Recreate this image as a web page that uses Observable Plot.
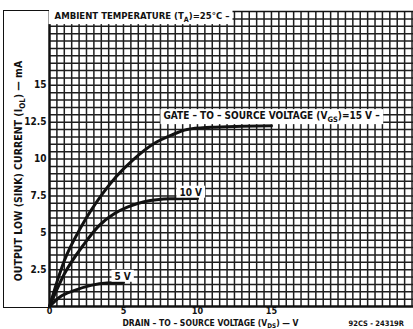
<!DOCTYPE html>
<html><head><meta charset="utf-8">
<script src="https://cdn.jsdelivr.net/npm/d3@7"></script>
<script src="https://cdn.jsdelivr.net/npm/@observablehq/plot@0.6"></script>
<style>
html,body{margin:0;padding:0;background:#fff;overflow:hidden;}
#wrap{position:relative;width:413px;height:329px;overflow:hidden;}
#wrap svg{position:absolute;left:0;top:0;}
#box{position:absolute;left:3px;top:10px;width:45px;height:296px;border:1.5px solid #111;border-right:none;pointer-events:none;}
</style></head><body><div id="wrap"></div>
<script>
// ---- data ----
const vds15 = [0, 0.5, 1.0, 2.14, 3.6, 4.5, 5.63, 7.1, 8.2, 9.3, 10.9, 13.0, 15.0];
const iol15 = [0, 1.65, 3.1, 5.4, 7.67, 8.8, 9.93, 11.07, 11.6, 12.0, 12.15, 12.22, 12.25];
const vds10 = [0, 1.0, 2.36, 3.27, 4.4, 5.3, 6.4, 8.2, 10.0];
const iol10 = [0, 2.2, 4.26, 5.4, 6.3, 6.75, 7.1, 7.3, 7.32];
const vds5 = [0, 0.68, 1.7, 2.8, 3.9, 5.0];
const iol5 = [0, 0.63, 1.09, 1.43, 1.59, 1.62];
const xTicks = [0, 5, 10, 15];
const yTicks = [2.5, 5, 7.5, 10, 12.5, 15];
const gridXs = d3.range(0.5, 24.6, 0.5);
const gridYs = d3.range(0.5, 20, 0.5);
const noteText = ["AMBIENT TEMPERATURE (T_{A})=25°C –", "GATE – TO – SOURCE VOLTAGE (V_{GS})=15 V –", "10 V", "5 V"];
const noteV = [0.34, 7.7, 8.78, 4.39];
const noteI = [19.69, 12.92, 7.73, 2.03];
const noteSize = [9.5, 10, 10, 10];
const yTitle = "OUTPUT LOW (SINK) CURRENT (I_{OL}) — mA";
const xTitle = "DRAIN – TO – SOURCE VOLTAGE (V_{DS}) — V";
const figCode = "92CS - 24319R";

const toPts = (xs, ys) => xs.map((x, i) => ({v: x, i: ys[i]}));
const notes = noteText.map((t, k) => ({t, v: noteV[k], i: noteI[k], s: noteSize[k]}));

const ink = "#111";
const gridInk = "#1e1e1e";
const chart = Plot.plot({
  width: 413, height: 329,
  marginLeft: 49, marginRight: 0, marginTop: 11, marginBottom: 23,
  x: {domain: [0, 24.6]},
  y: {domain: [0, 20]},
  style: {fontFamily: "'DejaVu Sans Condensed', 'DejaVu Sans', sans-serif", fontWeight: "bold", fontSize: "10px", color: ink, background: "transparent", overflow: "visible"},
  marks: [
    Plot.gridX(gridXs, {stroke: gridInk, strokeOpacity: 1, strokeWidth: 1.5}),
    Plot.gridY(gridYs, {stroke: gridInk, strokeOpacity: 1, strokeWidth: 1.5}),
    Plot.ruleX([0], {stroke: ink, strokeWidth: 2.5}),
    Plot.ruleY([0], {stroke: ink, strokeWidth: 2.5}),
    Plot.ruleY([20], {stroke: ink, strokeWidth: 1.5}),
    Plot.line(toPts(vds15, iol15), {x: "v", y: "i", stroke: ink, strokeWidth: 3, curve: "monotone-x"}),
    Plot.line(toPts(vds10, iol10), {x: "v", y: "i", stroke: ink, strokeWidth: 3, curve: "monotone-x"}),
    Plot.line(toPts(vds5, iol5), {x: "v", y: "i", stroke: ink, strokeWidth: 3, curve: "monotone-x"}),
    Plot.text(notes, {x: "v", y: "i", text: "t", fontSize: "s", textAnchor: "start", lineAnchor: "middle", fill: ink}),
    Plot.axisX(xTicks, {tickSize: 0, tickPadding: 1, label: null, fontSize: 9, fill: ink}),
    Plot.axisY(yTicks, {tickSize: 0, tickPadding: 3, label: null, fontSize: 10, fill: ink, tickFormat: d => String(d)}),
    Plot.text([yTitle], {frameAnchor: "left", dx: -31, dy: 12, rotate: -90, textAnchor: "middle", lineAnchor: "middle", fontSize: 10.5, fill: ink}),
    Plot.text([xTitle], {frameAnchor: "bottom", dx: -21, dy: 19.5, textAnchor: "middle", lineAnchor: "bottom", fontSize: 8.5, fill: ink}),
    Plot.text([figCode], {frameAnchor: "bottom-right", dx: -65, dy: 19, textAnchor: "start", lineAnchor: "bottom", fontSize: 7.5, fill: ink})
  ]
});

const wrap = document.getElementById("wrap");
wrap.appendChild(chart);
const box = document.createElement("div"); box.id = "box"; wrap.appendChild(box);

// find the annotation texts before rewriting subscripts
const noteSet = new Set(noteText);
const noteEls = [];
d3.select(chart).selectAll("text").each(function() {
  if (noteSet.has(this.textContent)) noteEls.push(this);
});

// subscripts written as _{..}
d3.select(chart).selectAll("text").each(function() {
  const el = this, s = el.textContent;
  if (!s.includes("_{")) return;
  const shift = s === xTitle ? 1.5 : 3;
  el.textContent = "";
  const parts = s.split(/(_\{[^}]*\})/);
  let shifted = false;
  for (const p of parts) {
    if (!p) continue;
    const ts = document.createElementNS("http://www.w3.org/2000/svg", "tspan");
    if (p.startsWith("_{")) {
      ts.textContent = p.slice(2, -1);
      ts.setAttribute("dy", shift); ts.setAttribute("font-size", "75%");
      shifted = true;
    } else {
      ts.textContent = p;
      if (shifted) { ts.setAttribute("dy", -shift); shifted = false; }
    }
    el.appendChild(ts);
  }
});

// white label boxes behind the annotations
noteEls.forEach((el, k) => {
  const b = el.getBBox();
  const padL = k === 0 ? 6 : 3;
  const r = document.createElementNS("http://www.w3.org/2000/svg", "rect");
  r.setAttribute("x", b.x - padL); r.setAttribute("y", b.y - 1);
  r.setAttribute("width", b.width + padL + 3); r.setAttribute("height", b.height + 1);
  r.setAttribute("fill", "#fff"); r.setAttribute("stroke", "none");
  const tr = el.getAttribute("transform"); if (tr) r.setAttribute("transform", tr);
  el.parentNode.insertBefore(r, el);
});
</script></body></html>
